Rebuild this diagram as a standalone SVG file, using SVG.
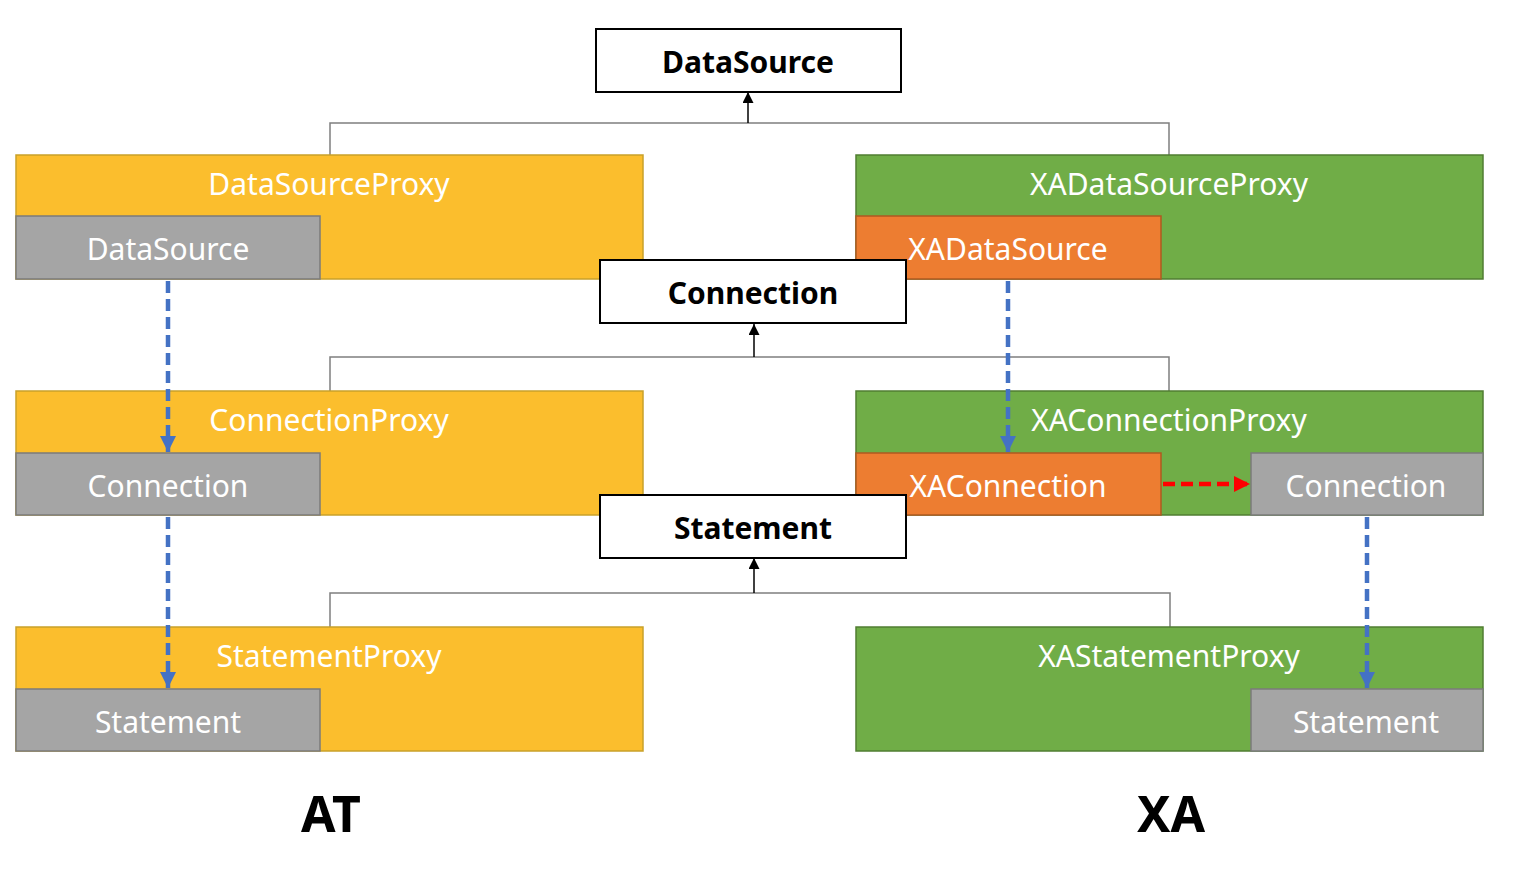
<svg xmlns="http://www.w3.org/2000/svg" width="1538" height="888" viewBox="0 0 1538 888">
<style>
.bg{fill:#ffffff}
.iface{fill:#ffffff;stroke:#000000;stroke-width:2}
.ifacetxt{font-family:"Noto Sans","Liberation Sans",sans-serif;font-weight:bold;font-size:30px;fill:#000000;text-anchor:middle;dominant-baseline:central}
.yellow{fill:#FBBE2D;stroke:#C9A12A;stroke-width:1.5}
.green{fill:#70AD47;stroke:#507E32;stroke-width:1.5}
.orange{fill:#ED7D31;stroke:#AE5A21;stroke-width:1.5}
.gray{fill:#A5A5A5;stroke:#7B7B7B;stroke-width:1.5}
.t{font-family:"Noto Sans","Liberation Sans",sans-serif;font-size:30px;fill:#ffffff;text-anchor:middle;dominant-baseline:central}
.big{font-family:"Noto Sans","Liberation Sans",sans-serif;font-weight:bold;font-size:50px;fill:#000000;text-anchor:middle;dominant-baseline:central}
.inh{fill:none;stroke:#7F7F7F;stroke-width:1.5}
.up{fill:none;stroke:#000000;stroke-width:1.5;marker-end:url(#blk)}
.blue{fill:none;stroke:#4472C4;stroke-width:4.5;stroke-dasharray:12 6;marker-end:url(#bluehead)}
.red{fill:none;stroke:#FF0000;stroke-width:4.5;stroke-dasharray:12 6;marker-end:url(#redhead)}
</style>
<defs>
<marker id="blk" viewBox="0 0 10 10" refX="10" refY="5" markerWidth="12" markerHeight="11" markerUnits="userSpaceOnUse" orient="auto"><path d="M0,0 L10,5 L0,10 Z" fill="#000"/></marker>
<marker id="bluehead" viewBox="0 0 10 10" refX="10" refY="5" markerWidth="16" markerHeight="17" markerUnits="userSpaceOnUse" orient="auto"><path d="M0,0 L10,5 L0,10 Z" fill="#4472C4"/></marker>
<marker id="redhead" viewBox="0 0 10 10" refX="10" refY="5" markerWidth="16" markerHeight="17" markerUnits="userSpaceOnUse" orient="auto"><path d="M0,0 L10,5 L0,10 Z" fill="#FF0000"/></marker>
</defs>
<rect class="bg" x="0" y="0" width="1538" height="888"/>

<g id="connectors-inherit">
<path class="inh" d="M330,155 V123 H1169 V155"/>
<path class="up" d="M748,123 V92"/>
<path class="inh" d="M330,391 V357 H1169 V391"/>
<path class="up" d="M754,357 V324"/>
<path class="inh" d="M330,627 V593 H1170 V627"/>
<path class="up" d="M754,593 V558"/>
</g>

<g id="DataSourceProxy">
<rect class="yellow" x="16" y="155" width="627" height="124"/>
<text class="t" x="329" y="183">DataSourceProxy</text>
</g>
<g id="AT-DataSource">
<rect class="gray" x="16" y="216" width="304" height="63"/>
<text class="t" x="168" y="248">DataSource</text>
</g>
<g id="XADataSourceProxy">
<rect class="green" x="856" y="155" width="627" height="124"/>
<text class="t" x="1169" y="183">XADataSourceProxy</text>
</g>
<g id="XADataSource">
<rect class="orange" x="856" y="216" width="305" height="63"/>
<text class="t" x="1008" y="248">XADataSource</text>
</g>

<g id="ConnectionProxy">
<rect class="yellow" x="16" y="391" width="627" height="124"/>
<text class="t" x="329" y="419">ConnectionProxy</text>
</g>
<g id="AT-Connection">
<rect class="gray" x="16" y="453" width="304" height="62"/>
<text class="t" x="168" y="485">Connection</text>
</g>
<g id="XAConnectionProxy">
<rect class="green" x="856" y="391" width="627" height="124"/>
<text class="t" x="1169" y="419">XAConnectionProxy</text>
</g>
<g id="XAConnection">
<rect class="orange" x="856" y="453" width="305" height="62"/>
<text class="t" x="1008" y="485">XAConnection</text>
</g>
<g id="XA-Connection">
<rect class="gray" x="1251" y="453" width="232" height="62"/>
<text class="t" x="1366" y="485">Connection</text>
</g>

<g id="StatementProxy">
<rect class="yellow" x="16" y="627" width="627" height="124"/>
<text class="t" x="329" y="655">StatementProxy</text>
</g>
<g id="AT-Statement">
<rect class="gray" x="16" y="689" width="304" height="62"/>
<text class="t" x="168" y="721">Statement</text>
</g>
<g id="XAStatementProxy">
<rect class="green" x="856" y="627" width="627" height="124"/>
<text class="t" x="1169" y="655">XAStatementProxy</text>
</g>
<g id="XA-Statement">
<rect class="gray" x="1251" y="689" width="232" height="62"/>
<text class="t" x="1366" y="721">Statement</text>
</g>

<g id="DataSource">
<rect class="iface" x="596" y="29" width="305" height="63"/>
<text class="ifacetxt" x="748" y="61">DataSource</text>
</g>
<g id="Connection">
<rect class="iface" x="600" y="260" width="306" height="63"/>
<text class="ifacetxt" x="753" y="292">Connection</text>
</g>
<g id="Statement">
<rect class="iface" x="600" y="495" width="306" height="63"/>
<text class="ifacetxt" x="753" y="527">Statement</text>
</g>

<g id="connectors-wrap">
<path class="blue" d="M168,281 V452"/>
<path class="blue" d="M168,517 V688"/>
<path class="blue" d="M1008,281 V452"/>
<path class="blue" d="M1367,517 V688"/>
<path class="red" d="M1163,484 H1250"/>
</g>

<g id="labels">
<text class="big" x="331" y="813">AT</text>
<text class="big" x="1171" y="813">XA</text>
</g>
</svg>
